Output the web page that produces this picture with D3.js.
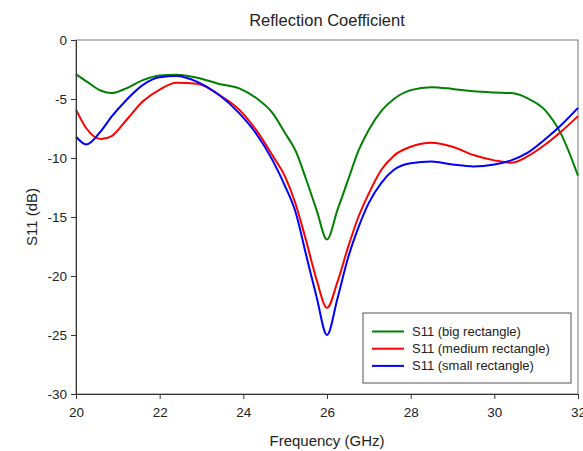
<!DOCTYPE html>
<html>
<head>
<meta charset="utf-8">
<script src="https://cdn.jsdelivr.net/npm/d3@7"></script>
<style>
  body { margin: 0; background: #fff; }
  text { font-family: "Liberation Sans", Arial, sans-serif; }
</style>
</head>
<body>
<div id="draw"></div>
<script>
// frequency grid (GHz), shared by the three traces
var freq = [20, 20.25, 20.6, 20.85, 21.2, 21.6, 22.0, 22.4, 22.9, 23.4, 23.9, 24.3, 24.7,
  25.0, 25.25, 25.5, 25.75, 26.0, 26.25, 26.5, 26.75, 27.0, 27.3, 27.6, 28.0, 28.5,
  29.0, 29.5, 30.0, 30.4, 30.8, 31.2, 31.6, 32.0];

var s11Big = [-2.9, -3.5, -4.3, -4.5, -4.1, -3.4, -3.0, -2.95, -3.2, -3.7, -4.1, -4.9, -6.2,
  -7.9, -9.4, -11.8, -14.4, -16.9, -14.4, -11.9, -9.4, -7.6, -6.0, -5.0, -4.25, -4.0,
  -4.15, -4.35, -4.45, -4.5, -4.95, -5.9, -8.0, -11.5];

var s11Medium = [-5.9, -7.5, -8.4, -8.15, -6.8, -5.2, -4.2, -3.63, -3.7, -4.6, -5.9, -7.6, -9.8,
  -11.6, -13.9, -17.0, -20.3, -22.7, -20.5, -17.6, -15.0, -13.0, -11.0, -9.8, -9.05, -8.7,
  -9.05, -9.75, -10.2, -10.4, -9.85, -8.9, -7.75, -6.45];

var s11Small = [-8.2, -8.85, -7.7, -6.5, -5.1, -3.8, -3.15, -3.05, -3.55, -4.6, -6.2, -7.9, -10.2,
  -12.4, -14.6, -18.2, -21.75, -25.0, -21.9, -18.5, -15.9, -13.8, -12.1, -11.0, -10.45, -10.3,
  -10.55, -10.72, -10.55, -10.2, -9.55, -8.45, -7.2, -5.75];

var xTicks = [20, 22, 24, 26, 28, 30, 32];
var yTicks = [0, -5, -10, -15, -20, -25, -30];

var seriesNames = ['S11 (big rectangle)', 'S11 (medium rectangle)', 'S11 (small rectangle)'];
var seriesColors = ['#008000', '#ff0000', '#0000ff'];
var seriesValues = [s11Big, s11Medium, s11Small];

var W = 583, H = 451;
var mLeft = 76, mRight = 578, mTop = 40, mBottom = 394;

var svg = d3.select('#draw').append('svg').attr('width', W).attr('height', H);

var x = d3.scaleLinear().domain([20, 32]).range([mLeft, mRight]);
var y = d3.scaleLinear().domain([-30, 0]).range([mBottom, mTop]);

// frame (top and right in grey)
svg.append('rect')
  .attr('x', mLeft).attr('y', mTop)
  .attr('width', mRight - mLeft).attr('height', mBottom - mTop)
  .attr('fill', 'none').attr('stroke', '#777').attr('stroke-width', 1);

// curves
var line = d3.line()
  .x(function(d) { return x(d[0]); })
  .y(function(d) { return y(d[1]); })
  .curve(d3.curveMonotoneX);

var plot = svg.append('g');
for (var i = 0; i < seriesValues.length; i++) {
  var pts = freq.map(function(f, k) { return [f, seriesValues[i][k]]; });
  plot.append('path')
    .attr('d', line(pts))
    .attr('fill', 'none')
    .attr('stroke', seriesColors[i])
    .attr('stroke-width', 2);
}

// axes (plain hyphen minus, like the original)
var fmt = function(d) { return String(d); };
var xAxis = svg.append('g')
  .attr('transform', 'translate(0,' + mBottom + ')')
  .call(d3.axisBottom(x).tickValues(xTicks).tickFormat(fmt).tickSize(5).tickSizeOuter(0).tickPadding(8));
var yAxis = svg.append('g')
  .attr('transform', 'translate(' + mLeft + ',0)')
  .call(d3.axisLeft(y).tickValues(yTicks).tickFormat(fmt).tickSize(5).tickSizeOuter(0).tickPadding(4));

[xAxis, yAxis].forEach(function(a) {
  a.selectAll('path').attr('stroke', '#333');
  a.selectAll('line').attr('stroke', '#333');
  a.selectAll('text').attr('font-size', 13.5).attr('fill', '#222')
    .attr('font-family', '"Liberation Sans", Arial, sans-serif');
});

// title and labels
svg.append('text')
  .attr('x', (mLeft + mRight) / 2).attr('y', 26)
  .attr('text-anchor', 'middle').attr('font-size', 16.5).attr('fill', '#222')
  .text('Reflection Coefficient');

svg.append('text')
  .attr('x', (mLeft + mRight) / 2).attr('y', 446)
  .attr('text-anchor', 'middle').attr('font-size', 15).attr('fill', '#222')
  .text('Frequency (GHz)');

svg.append('text')
  .attr('transform', 'translate(37,' + ((mTop + mBottom) / 2) + ') rotate(-90)')
  .attr('text-anchor', 'middle').attr('font-size', 15).attr('fill', '#222')
  .text('S11 (dB)');

// legend
var lg = svg.append('g');
lg.append('rect')
  .attr('x', 363).attr('y', 313).attr('width', 208).attr('height', 70)
  .attr('fill', '#fff').attr('stroke', '#555').attr('stroke-width', 1);
for (var j = 0; j < seriesNames.length; j++) {
  var ly = 331.5 + j * 17.2;
  lg.append('line')
    .attr('x1', 372).attr('x2', 404).attr('y1', ly).attr('y2', ly)
    .attr('stroke', seriesColors[j]).attr('stroke-width', 2);
  lg.append('text')
    .attr('x', 412).attr('y', ly + 4.5)
    .attr('font-size', 13).attr('fill', '#222')
    .text(seriesNames[j]);
}
</script>
</body>
</html>
